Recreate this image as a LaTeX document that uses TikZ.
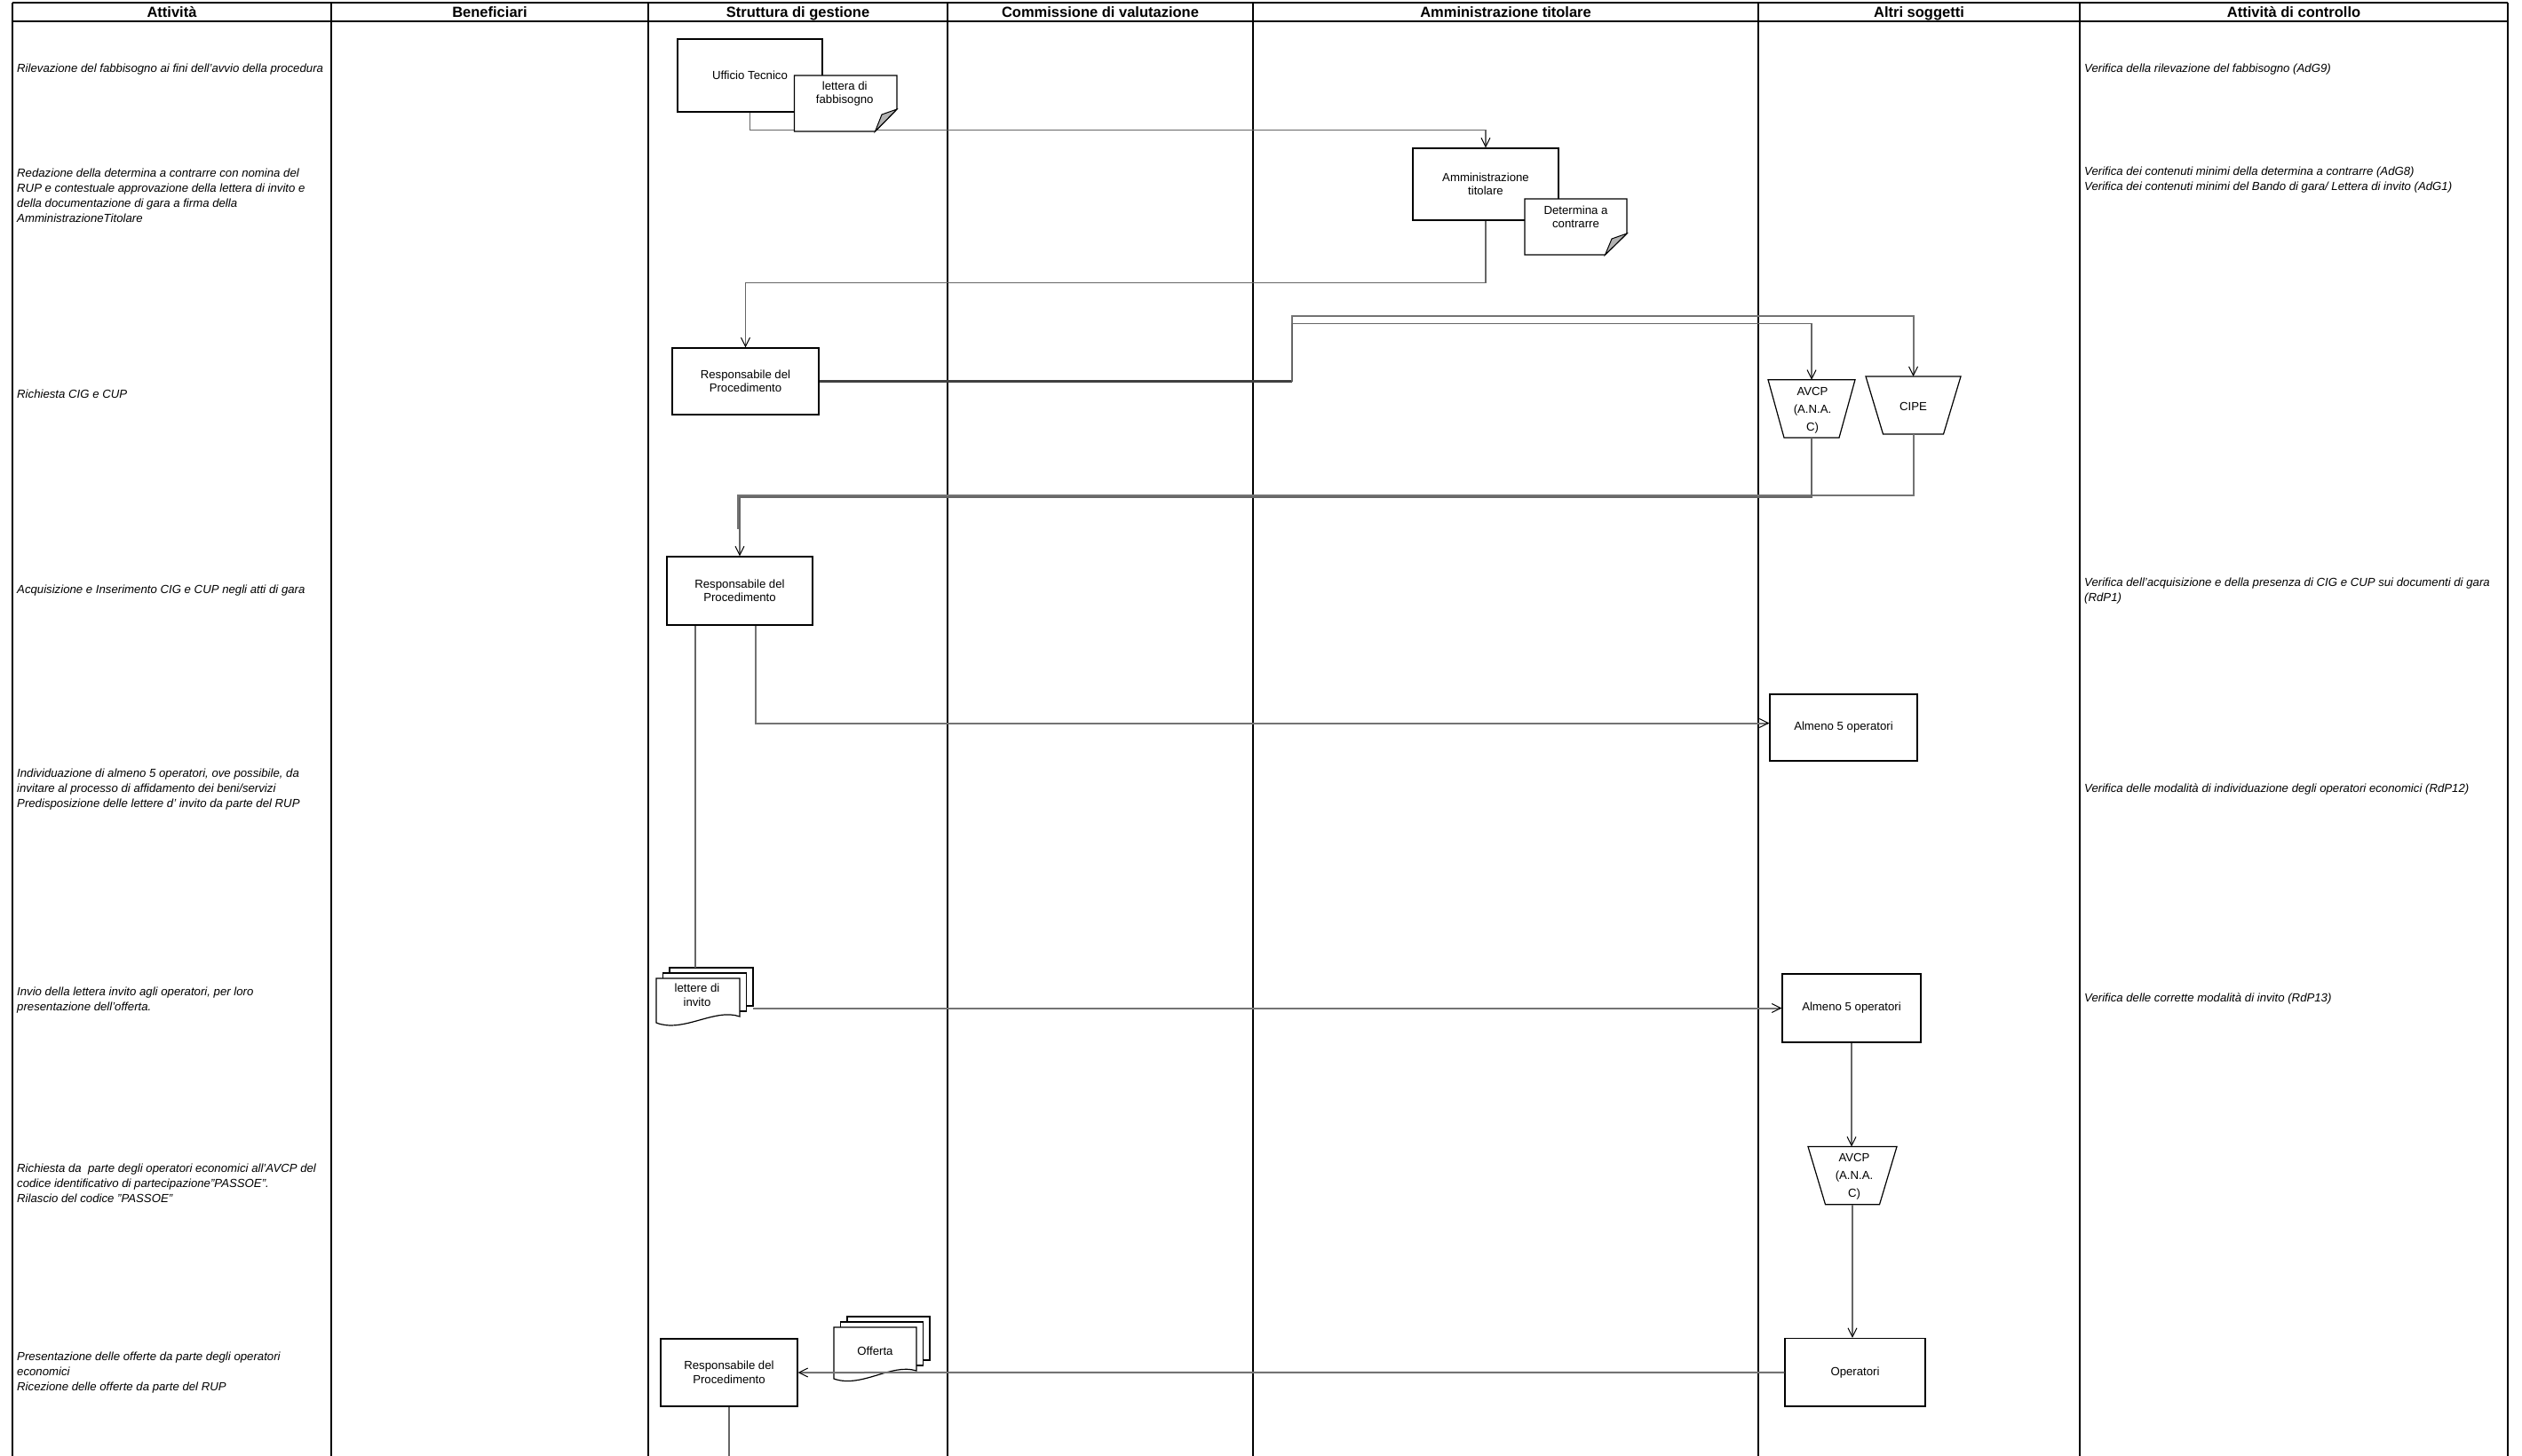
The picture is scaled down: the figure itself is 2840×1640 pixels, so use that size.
\documentclass[tikz,border=0pt]{standalone}
\usepackage{fontspec}
\setmainfont{Liberation Sans}
\usetikzlibrary{arrows.meta,calc}
\begin{document}
\begin{tikzpicture}[x=1pt,y=-1pt,
  lane/.style={line width=2.2pt,black},
  headtxt/.style={anchor=base,inner sep=0pt,font=\fontsize{16.5}{18}\selectfont\bfseries},
  lanetxt/.style={anchor=west,inner sep=0pt,align=left,font=\fontsize{13.2}{17}\selectfont\itshape},
  procbox/.style={draw=black,line width=1.2pt,fill=white,align=center,inner sep=0pt,font=\fontsize{13.2}{15.5}\selectfont},
  frame/.style={inner sep=0pt,outer sep=0pt},
  shapeline/.style={draw=black,line width=1.2pt,fill=white,line join=miter},
  foldtri/.style={draw=black,line width=1pt,fill=black!30},
  doctxt/.style={inner sep=0pt,align=center,font=\fontsize{13.2}{15.5}\selectfont},
  trapetxt/.style={inner sep=0pt,align=center,font=\fontsize{13.2}{20}\selectfont},
  conn/.style={draw=black!60,line width=1.1pt},
  connm/.style={draw=black!55,line width=2pt},
  connk/.style={draw=black!75,line width=3pt},
  tip/.style={-{Straight Barb[length=10pt,width=10pt,line width=1pt,color=black]}}
]
\useasboundingbox[fill=white] (0,0) rectangle (2840,1640);

% swimlane grid
\draw[lane] (14,3) -- (2824,3);
\draw[lane] (14,24) -- (2824,24);
\foreach \x in {14,373,730,1067,1411,1980,2342,2824} \draw[lane] (\x,3) -- (\x,1640);

\node[headtxt] (h1) at (193.5,19.3) {Attività};
\node[headtxt] (h2) at (551.5,19.3) {Beneficiari};
\node[headtxt] (h3) at (898.5,19.3) {Struttura di gestione};
\node[headtxt] (h4) at (1239,19.3) {Commissione di valutazione};
\node[headtxt] (h5) at (1695.5,19.3) {Amministrazione titolare};
\node[headtxt] (h6) at (2161,19.3) {Altri soggetti};
\node[headtxt] (h7) at (2583,19.3) {Attività di controllo};

% activity texts
\node[lanetxt] (a1) at (19,78) {Rilevazione del fabbisogno ai fini dell'avvio della procedura};
\node[lanetxt] (a2) at (19,220) {Redazione della determina a contrarre con nomina del\\RUP e contestuale approvazione della lettera di invito e\\della documentazione di gara a firma della\\AmministrazioneTitolare};
\node[lanetxt] (a3) at (19,444) {Richiesta CIG e CUP};
\node[lanetxt] (a4) at (19,665.5) {Acquisizione e Inserimento CIG e CUP negli atti di gara};
\node[lanetxt] (a5) at (19,889.5) {Individuazione di almeno 5 operatori, ove possibile, da\\invitare al processo di affidamento dei beni/servizi\\Predisposizione delle lettere d' invito da parte del RUP};
\node[lanetxt] (a6) at (19,1126.5) {Invio della lettera invito agli operatori, per loro\\presentazione dell'offerta.};
\node[lanetxt] (a7) at (19,1333) {Richiesta da\ \ parte degli operatori economici all'AVCP del\\codice identificativo di partecipazione"PASSOE".\\Rilascio del codice "PASSOE"};
\node[lanetxt] (a8) at (19,1546) {Presentazione delle offerte da parte degli operatori\\economici\\Ricezione delle offerte da parte del RUP};

% control texts
\node[lanetxt] (c1) at (2347,78) {Verifica della rilevazione del fabbisogno (AdG9)};
\node[lanetxt] (c2) at (2347,203) {Verifica dei contenuti minimi della determina a contrarre (AdG8)\\Verifica dei contenuti minimi del Bando di gara/ Lettera di invito (AdG1)};
\node[lanetxt] (c3) at (2347,665.5) {Verifica dell'acquisizione e della presenza di CIG e CUP sui documenti di gara\\(RdP1)};
\node[lanetxt] (c4) at (2347,889) {Verifica delle modalità di individuazione degli operatori economici (RdP12)};
\node[lanetxt] (c5) at (2347,1125) {Verifica delle corrette modalità di invito (RdP13)};

% process boxes
\node[procbox,minimum width=163pt,minimum height=82pt] (uff) at (844.5,85) {Ufficio Tecnico};
\node[procbox,minimum width=164pt,minimum height=81pt] (amm) at (1673,207.5) {Amministrazione\\titolare};
\node[procbox,minimum width=165pt,minimum height=75pt] (res1) at (839.5,429.5) {Responsabile del\\Procedimento};
\node[procbox,minimum width=164pt,minimum height=77pt] (res2) at (833,665.5) {Responsabile del\\Procedimento};
\node[procbox,minimum width=154pt,minimum height=76pt] (res3) at (821,1546) {Responsabile del\\Procedimento};
\node[procbox,minimum width=166pt,minimum height=75pt] (alm1) at (2076,819.5) {Almeno 5 operatori};
\node[procbox,minimum width=156pt,minimum height=77pt] (alm2) at (2085,1135.5) {Almeno 5 operatori};
\node[procbox,minimum width=158pt,minimum height=76.5pt] (oper) at (2089,1545.75) {Operatori};

% trapezoids
\node[frame,minimum width=98pt,minimum height=65.3pt] (avcp1) at (2040,460.35) {};
\draw[shapeline] (avcp1.north west) -- (avcp1.north east) -- ($(avcp1.south east)+(-18,0)$) -- ($(avcp1.south west)+(18,0)$) -- cycle;
\node[trapetxt] (avcp1t) at ($(avcp1.center)+(1,1.5)$) {AVCP\\(A.N.A.\\C)};
\node[frame,minimum width=107pt,minimum height=65pt] (cipe) at (2154.5,456.5) {};
\draw[shapeline] (cipe.north west) -- (cipe.north east) -- ($(cipe.south east)+(-19.5,0)$) -- ($(cipe.south west)+(19.5,0)$) -- cycle;
\node[trapetxt] (cipet) at ($(cipe.center)+(0,1.5)$) {CIPE};
\node[frame,minimum width=100pt,minimum height=65.2pt] (avcp2) at (2086,1324.1) {};
\draw[shapeline] (avcp2.north west) -- (avcp2.north east) -- ($(avcp2.south east)+(-19.5,0)$) -- ($(avcp2.south west)+(19.5,0)$) -- cycle;
\node[trapetxt] (avcp2t) at ($(avcp2.center)+(2,1)$) {AVCP\\(A.N.A.\\C)};

% first connector (passes under the document)
\draw[conn,tip] (uff.south) -- ++(0,20) -| (amm.north);

% documents with folded corner
\node[frame,minimum width=115.5pt,minimum height=63pt] (letfab) at (952.25,116.5) {};
\draw[shapeline] (letfab.north west) -- (letfab.north east) -- ($(letfab.south east)+(0,-25)$) -- ($(letfab.south east)+(-24.5,0)$) -- (letfab.south west) -- cycle;
\draw[foldtri] ($(letfab.south east)+(0,-25)$) -- ($(letfab.south east)+(-24.5,0)$) -- ($(letfab.south east)+(-17,-19)$) -- cycle;
\node[doctxt] (letfabt) at ($(letfab.center)+(-1,-11)$) {lettera di\\fabbisogno};

\node[frame,minimum width=115pt,minimum height=63pt] (det) at (1774.5,255.5) {};
\draw[shapeline] (det.north west) -- (det.north east) -- ($(det.south east)+(0,-24)$) -- ($(det.south east)+(-24.5,0)$) -- (det.south west) -- cycle;
\draw[foldtri] ($(det.south east)+(0,-24)$) -- ($(det.south east)+(-24.5,0)$) -- ($(det.south east)+(-17,-18)$) -- cycle;
\node[doctxt] (dett) at ($(det.center)+(0,-11)$) {Determina a\\contrarre};

% multi documents
\node[frame,minimum width=94pt,minimum height=50pt] (inv) at (786,1127) {};
\draw[shapeline,line width=1.1pt] ($(inv.north west)+(15,-12)$) rectangle ($(inv.north east)+(15,31)$);
\draw[shapeline,line width=1.1pt] ($(inv.north west)+(7.5,-6)$) rectangle ($(inv.north east)+(7.5,37)$);
\draw[shapeline] (inv.north west) -- (inv.north east) -- ($(inv.north east)+(0,43)$) .. controls ($(inv.south east)+(-28,-17)$) and ($(inv.south west)+(30,12)$) .. (inv.south west) -- cycle;
\node[doctxt] (invt) at ($(inv.center)+(-1,-6)$) {lettere di\\invito};

\node[frame,minimum width=93pt,minimum height=58pt] (off) at (985.5,1524) {};
\draw[shapeline,line width=1.1pt] ($(off.north west)+(15,-12)$) rectangle ($(off.north east)+(15,37)$);
\draw[shapeline,line width=1.1pt] ($(off.north west)+(7.5,-6)$) rectangle ($(off.north east)+(7.5,43)$);
\draw[shapeline] (off.north west) -- (off.north east) -- ($(off.north east)+(0,49)$) .. controls ($(off.south east)+(-28,-18)$) and ($(off.south west)+(31,11)$) .. (off.south west) -- cycle;
\node[doctxt] (offt) at ($(off.center)+(0,-2.5)$) {Offerta};

% connectors
\draw[conn,tip] (amm.south) -- ++(0,70) -| (res1.north);
\coordinate (j1) at (1455,429.5);
\draw[connk] (res1.east) -- (j1);
\draw[connm,tip] (j1) -- ++(0,-74) -| (cipe.north);
\draw[conn,tip] (j1) -- ++(0,-65) -| (avcp1.north);
\draw[connm] (cipe.south) -- ++(0,69) -| ($(res2.north)+(-2,-30)$);
\draw[conn,tip] (avcp1.south) -- ++(0,67) -| (res2.north);
\draw[connm,tip] ($(res2.south)+(18,0)$) |- ($(alm1.west)+(0,-5)$);
\draw[conn] ($(res2.south)+(-50,0)$) -- ($(inv.north west)+(44,-12)$);
\draw[connm,tip] ($(inv.east)+(15,8.5)$) -- (alm2.west);
\draw[conn,tip] (alm2.south) -- (alm2.south |- avcp2.north);
\draw[conn,tip] (avcp2.south) -- (avcp2.south |- oper.north);
\draw[connm,tip] (oper.west) -- (res3.east);
\coordinate (endb) at (821,1640);
\draw[conn] (res3.south) -- (endb);
\end{tikzpicture}
\end{document}
